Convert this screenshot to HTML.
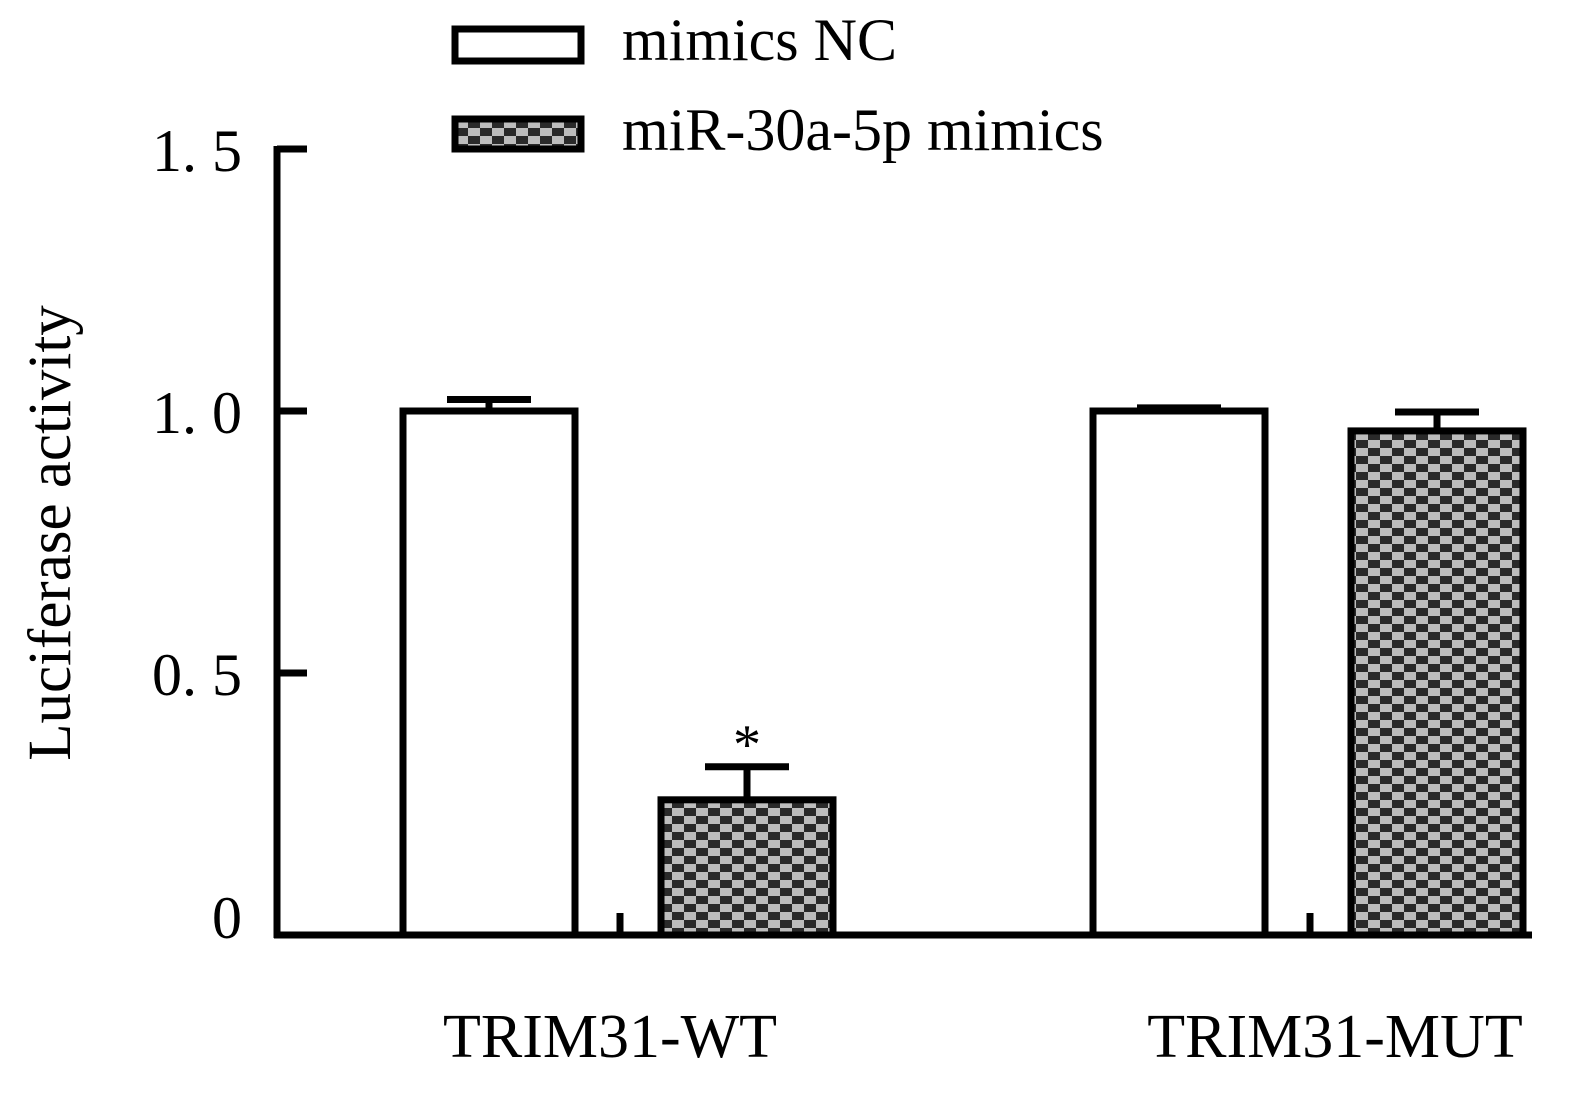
<!DOCTYPE html>
<html><head><meta charset="utf-8"><style>
html,body{margin:0;padding:0;background:#fff;}
svg{display:block;font-family:"Liberation Serif",serif;}
</style></head><body>
<svg id="chart" width="1588" height="1118" viewBox="0 0 1588 1118">
<defs>
<pattern id="chk" width="24" height="16" patternUnits="userSpaceOnUse">
<rect width="24" height="16" fill="#bdbdbd"/>
<rect x="0" y="0" width="12" height="8" fill="#2a2a2a"/>
<rect x="12" y="8" width="12" height="8" fill="#2a2a2a"/>
</pattern>
</defs>
<g id="legend">
<rect x="455" y="29" width="126" height="32" fill="#fff" stroke="#000" stroke-width="7"/>
<text x="622" y="60" font-size="60">mimics NC</text>
<rect x="455" y="119" width="126" height="30" fill="url(#chk)" stroke="#000" stroke-width="7"/>
<text x="622" y="150" font-size="60">miR-30a-5p mimics</text>
</g>
<text transform="translate(70,533) rotate(-90)" text-anchor="middle" font-size="61">Luciferase activity</text>
<g id="axes"></g>
<g id="bars"></g>
</svg>
<script>
const categories = ["TRIM31-WT", "TRIM31-MUT"];
const ncValues = [1.0, 1.0];
const ncErrors = [0.022, 0.006];
const mimicValues = [0.258, 0.962];
const mimicErrors = [0.063, 0.036];
const yTicks = [0, 0.5, 1.0, 1.5];
const yTickLabels = ["0", "0. 5", "1. 0", "1. 5"];
const sig = ["*", ""];

const NS = "http://www.w3.org/2000/svg";
const y0 = 935, pxPerUnit = 524;
const yScale = v => y0 - v * pxPerUnit;
const groupX = i => 400 + i * 690;
const labelCenters = [610, 1335];
const axes = document.getElementById('axes');
const bars = document.getElementById('bars');
function mk(tag, attrs, parent){const e=document.createElementNS(NS,tag);for(const k in attrs)e.setAttribute(k,attrs[k]);parent.appendChild(e);return e;}

let el = mk('line',{x1:277,y1:yScale(1.5)-3,x2:277,y2:y0+3,stroke:'#000','stroke-width':7},axes);


el = mk('line',{x1:274,y1:y0,x2:1532,y2:y0,stroke:'#000','stroke-width':7},axes);


yTicks.forEach((t,i)=>{
  const y=yScale(t);
  if(t>0){
    const tk=mk('line',{x1:277,y1:y,x2:307,y2:y,stroke:'#000','stroke-width':7},axes);
    
    
  }
  const lb=mk('text',{x:242,y:t===0?y+3:y+22,'text-anchor':'end','font-size':60},axes);
  lb.textContent=yTickLabels[i];
  
  
});

function bar(x,v,e,fill,name){
  const yt=yScale(v), ye=yScale(v+e), cx=x+89;
  const l=mk('line',{x1:cx,y1:yt,x2:cx,y2:ye,stroke:'#000','stroke-width':7},bars);
  
  
  const c=mk('line',{x1:cx-42,y1:ye,x2:cx+42,y2:ye,stroke:'#000','stroke-width':7},bars);
  
  
  const r=mk('rect',{x:x+3,y:yt,width:172,height:y0-yt,fill:fill,stroke:'#000','stroke-width':7},bars);
  
  
  return ye;
}
categories.forEach((c,i)=>{
  const gx=groupX(i);
  bar(gx,ncValues[i],ncErrors[i],'#fff','bar-nc-'+i);
  const ye=bar(gx+258,mimicValues[i],mimicErrors[i],'url(#chk)','bar-mimics-'+i);
  const m=mk('line',{x1:gx+220,y1:913,x2:gx+220,y2:y0,stroke:'#000','stroke-width':7},bars);
  
  
  if(sig[i]){
    const s=mk('text',{x:gx+258+89,y:ye-4,'text-anchor':'middle','font-size':56},bars);
    s.textContent=sig[i];
    
    
  }
  const t=mk('text',{x:labelCenters[i],y:1057,'text-anchor':'middle','font-size':62},bars);
  t.textContent=c;
  
  
});
</script>
</body></html>
